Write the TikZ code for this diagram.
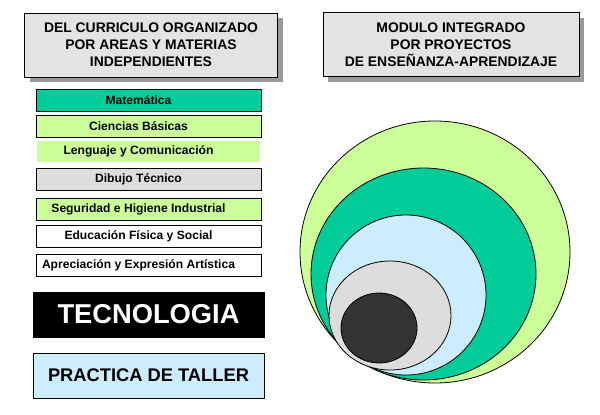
\documentclass[tikz,border=0pt]{standalone}
\usepackage{fontspec}
\setmainfont{Liberation Sans}
\usetikzlibrary{shapes, shadows}
\definecolor{verdeclaro}{HTML}{CCFF99}
\definecolor{verdeagua}{HTML}{00CC99}
\definecolor{celeste}{HTML}{CCECFF}
\definecolor{grisclaro}{HTML}{DDDDDD}
\definecolor{grisfondo}{HTML}{E3E3E3}
\definecolor{sombra}{HTML}{999999}
\definecolor{oscuro}{HTML}{333333}

\begin{document}
\begin{tikzpicture}[x=1pt,y=-1pt]
      \tikzset{titulo/.style={draw,
          line width=0.8pt,
          fill=grisfondo,
          minimum width=253pt,
          minimum height=64pt,
          align=center,
          font=\bfseries\fontsize{13.9}{17}\selectfont,
          drop shadow={shadow xshift=5pt, shadow yshift=-5pt, fill=sombra, opacity=1}},
        materia/.style={draw,
          line width=0.8pt,
          fill=#1,
          minimum width=225pt,
          minimum height=22pt,
          inner sep=0pt,
          execute at begin node={\hspace*{-20pt}},
          font=\bfseries\fontsize{12.1}{14}\selectfont},
        bloque/.style={draw,
          line width=0.8pt,
          fill=#1,
          minimum width=231pt,
          minimum height=45pt,
          inner sep=0pt},
        capa/.style={draw, line width=0.8pt, fill=#1}
      }
      \useasboundingbox (0,0) rectangle (600,415);

      \node [titulo] (curriculo) at (151,45) {DEL CURRICULO ORGANIZADO\\POR AREAS Y MATERIAS\\INDEPENDIENTES};
      \node [titulo, minimum width=256pt] (modulo) at (451,44.5) {MODULO INTEGRADO\\POR PROYECTOS\\DE ENSEÑANZA-APRENDIZAJE};

      \node [materia=verdeagua] (mat) at (148.5,100) {Matemática};
      \node [materia=verdeclaro] (cien) at (148.5,126) {Ciencias Básicas};
      \node [materia=verdeclaro, draw=none, minimum width=223pt, minimum height=21pt] (leng) at (148.5,151.5) {Lenguaje y Comunicación};
      \node [materia=grisclaro] (dib) at (148.5,179) {Dibujo Técnico};
      \node [materia=verdeclaro] (seg) at (148.5,209) {Seguridad e Higiene Industrial};
      \node [materia=white] (edu) at (148.5,236.5) {Educación Física y Social};
      \node [materia=white] (art) at (148.5,265.5) {Apreciación y Expresión Artística};

      \node [bloque=black, text=white, font=\bfseries\fontsize{27.3}{30}\selectfont] (tec) at (148.5,314.5) {TECNOLOGIA};
      \node [bloque=celeste, font=\bfseries\fontsize{18.3}{20}\selectfont] (taller) at (148.5,375.5) {PRACTICA DE TALLER};

      % capas del modulo integrado
      \draw [capa=verdeclaro] (435,252) ellipse [x radius=135, y radius=131];
      \draw [capa=verdeagua] (423.5,274) ellipse [x radius=112.5, y radius=106];
      \draw [capa=celeste] (406,295) ellipse [x radius=80, y radius=80];
      \draw [capa=grisclaro] (390,315.5) ellipse [x radius=61, y radius=54.5];
      \draw [capa=oscuro] (379,328) ellipse [x radius=38, y radius=35];

    \end{tikzpicture}
\end{document}
